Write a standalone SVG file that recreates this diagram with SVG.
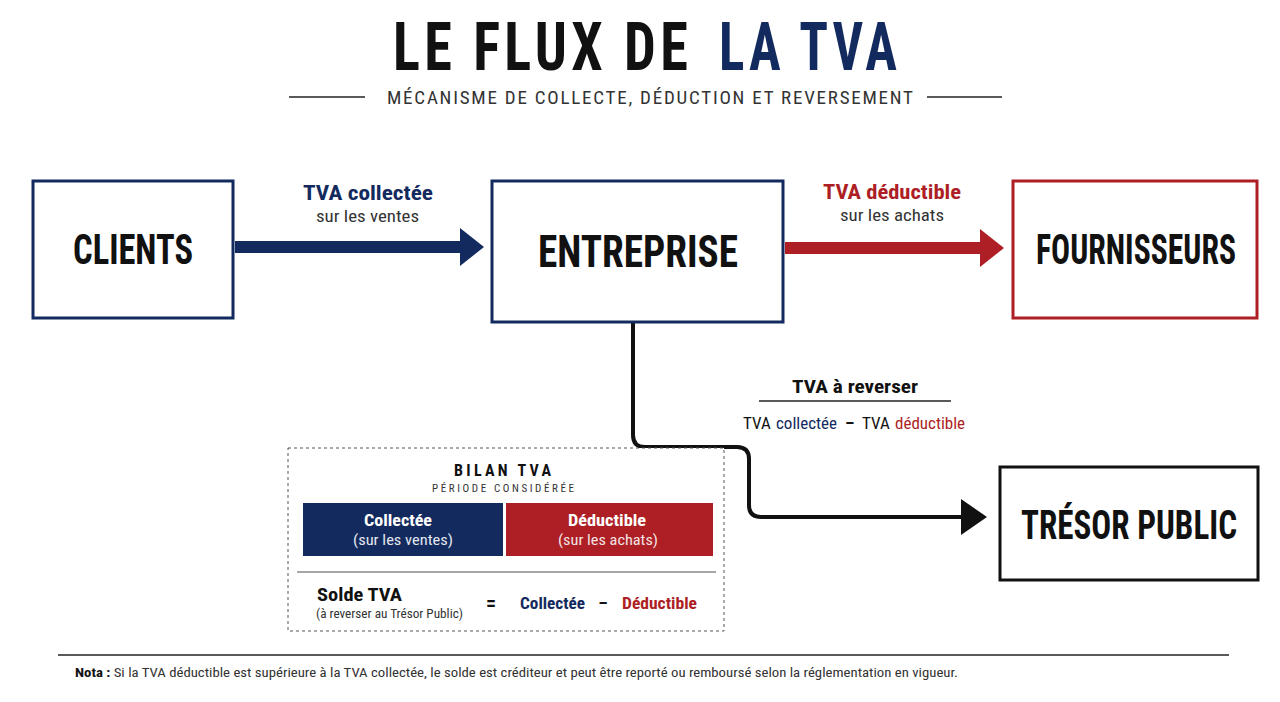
<svg xmlns="http://www.w3.org/2000/svg" width="1280" height="702" viewBox="0 0 1280 702">
<defs>
<style>
.cond{font-family:"Liberation Sans Narrow","Roboto Condensed","DejaVu Sans Condensed","Liberation Sans",sans-serif;font-stretch:condensed}
.heavy{font-weight:bold}
.navy{fill:#132a5e}
.red{fill:#ad1f24}
.ink{fill:#111111}
.gray{fill:#333333}
.box{fill:#ffffff;stroke-width:3}
.node{font-size:36px}
</style>
<marker id="headNavy" markerUnits="userSpaceOnUse" markerWidth="24" markerHeight="38" viewBox="0 0 24 38" refX="0" refY="19" orient="auto"><path d="M0,0 L24,19 L0,38 Z" fill="#132a5e"/></marker>
<marker id="headRed" markerUnits="userSpaceOnUse" markerWidth="24" markerHeight="38" viewBox="0 0 24 38" refX="0" refY="19" orient="auto"><path d="M0,0 L24,19 L0,38 Z" fill="#ad1f24"/></marker>
<marker id="headBlack" markerUnits="userSpaceOnUse" markerWidth="26" markerHeight="36" viewBox="0 0 26 36" refX="0" refY="18" orient="auto"><path d="M0,0 L26,18 L0,36 Z" fill="#111111"/></marker>
</defs>
<rect width="1280" height="702" fill="#ffffff"/>

<g id="title">
<text class="cond heavy ink" transform="translate(393,70) scale(1,1.25)" font-size="53" textLength="299" lengthAdjust="spacingAndGlyphs" letter-spacing="4">LE FLUX DE</text>
<text class="cond heavy navy" transform="translate(719,70) scale(1,1.25)" font-size="53" textLength="182" lengthAdjust="spacingAndGlyphs" letter-spacing="4">LA TVA</text>
<line x1="289" y1="97" x2="365" y2="97" stroke="#222" stroke-width="1.5"/>
<line x1="927" y1="97" x2="1002" y2="97" stroke="#222" stroke-width="1.5"/>
<text class="cond gray" x="387" y="104" font-size="19" textLength="526" lengthAdjust="spacing">MÉCANISME DE COLLECTE, DÉDUCTION ET REVERSEMENT</text>
</g>

<g id="connectors">
<line x1="235" y1="247" x2="460" y2="247" stroke="#132a5e" stroke-width="12" marker-end="url(#headNavy)"/>
<line x1="785" y1="248" x2="980" y2="248" stroke="#ad1f24" stroke-width="12" marker-end="url(#headRed)"/>
<path d="M633,322 V435 Q633,447 645,447 H737 Q749,447 749,459 V505 Q749,517 761,517 H961" fill="none" stroke="#111111" stroke-width="4" marker-end="url(#headBlack)"/>
<text class="cond heavy navy" x="303" y="200" font-size="20" textLength="130" lengthAdjust="spacingAndGlyphs">TVA collectée</text>
<text class="cond gray" x="316" y="222" font-size="16" textLength="103" lengthAdjust="spacingAndGlyphs">sur les ventes</text>
<text class="cond heavy red" x="823" y="199" font-size="20" textLength="138" lengthAdjust="spacingAndGlyphs">TVA déductible</text>
<text class="cond gray" x="840" y="221" font-size="16" textLength="104" lengthAdjust="spacingAndGlyphs">sur les achats</text>
<text class="cond heavy ink" x="792" y="393" font-size="18" textLength="126" lengthAdjust="spacingAndGlyphs">TVA à reverser</text>
<line x1="759" y1="401" x2="951" y2="401" stroke="#222" stroke-width="1.5"/>
<text class="cond" y="429" font-size="17"><tspan class="ink" x="743">TVA</tspan><tspan class="navy" x="776">collectée</tspan><tspan class="ink heavy" x="845">–</tspan><tspan class="ink" x="862">TVA</tspan><tspan class="red" x="895">déductible</tspan></text>
</g>

<g id="clients">
<rect class="box" x="33" y="181" width="200" height="137" stroke="#132a5e"/>
<text class="cond heavy ink node" transform="translate(73,264) scale(1,1.2)" textLength="120" lengthAdjust="spacingAndGlyphs">CLIENTS</text>
</g>

<g id="entreprise">
<rect class="box" x="492" y="181" width="291" height="141" stroke="#132a5e"/>
<text class="cond heavy ink node" transform="translate(538,267) scale(1,1.22)" textLength="200" lengthAdjust="spacingAndGlyphs">ENTREPRISE</text>
</g>

<g id="fournisseurs">
<rect class="box" x="1013" y="181" width="244" height="137" stroke="#ad1f24"/>
<text class="cond heavy ink node" transform="translate(1036,264) scale(1,1.2)" textLength="200" lengthAdjust="spacingAndGlyphs">FOURNISSEURS</text>
</g>

<g id="tresor">
<rect class="box" x="1000" y="467" width="258" height="113" stroke="#111111"/>
<text class="cond heavy ink node" transform="translate(1021,539) scale(1,1.12)" textLength="216" lengthAdjust="spacingAndGlyphs">TRÉSOR PUBLIC</text>
</g>

<g id="bilan">
<rect x="288" y="448" width="436" height="183" fill="#ffffff" stroke="#555" stroke-width="1" stroke-dasharray="3,3"/>
<text class="cond heavy ink" x="454" y="476" font-size="16" textLength="97" lengthAdjust="spacing">BILAN TVA</text>
<text class="cond gray" x="432" y="492" font-size="11" textLength="142" lengthAdjust="spacing">PÉRIODE CONSIDÉRÉE</text>
<rect x="303" y="503" width="200" height="53" fill="#132a5e"/>
<rect x="506" y="503" width="207" height="53" fill="#ad1f24"/>
<text class="cond heavy" fill="#ffffff" x="364" y="526" font-size="17" textLength="68" lengthAdjust="spacingAndGlyphs">Collectée</text>
<text class="cond" fill="#e4e7f0" x="353" y="545" font-size="15" textLength="100" lengthAdjust="spacingAndGlyphs">(sur les ventes)</text>
<text class="cond heavy" fill="#ffffff" x="568" y="526" font-size="17" textLength="78" lengthAdjust="spacingAndGlyphs">Déductible</text>
<text class="cond" fill="#f3e3e3" x="558" y="545" font-size="15" textLength="100" lengthAdjust="spacingAndGlyphs">(sur les achats)</text>
<line x1="297" y1="572" x2="716" y2="572" stroke="#888" stroke-width="1.5"/>
<text class="cond heavy ink" x="317" y="601" font-size="18" textLength="85" lengthAdjust="spacingAndGlyphs">Solde TVA</text>
<text class="cond gray" x="316" y="618" font-size="12" textLength="147" lengthAdjust="spacingAndGlyphs">(à reverser au Trésor Public)</text>
<text class="cond heavy ink" x="491" y="610" font-size="20" text-anchor="middle">=</text>
<text class="cond heavy navy" x="520" y="609" font-size="17" textLength="65" lengthAdjust="spacingAndGlyphs">Collectée</text>
<text class="cond heavy ink" x="603" y="609" font-size="17" text-anchor="middle">–</text>
<text class="cond heavy red" x="622" y="609" font-size="17" textLength="75" lengthAdjust="spacingAndGlyphs">Déductible</text>
</g>

<g id="note">
<line x1="58" y1="655" x2="1229" y2="655" stroke="#222" stroke-width="1.5"/>
<text class="cond gray" x="75" y="677" font-size="13" textLength="883" lengthAdjust="spacingAndGlyphs"><tspan class="heavy ink">Nota :</tspan> Si la TVA déductible est supérieure à la TVA collectée, le solde est créditeur et peut être reporté ou remboursé selon la réglementation en vigueur.</text>
</g>
</svg>
